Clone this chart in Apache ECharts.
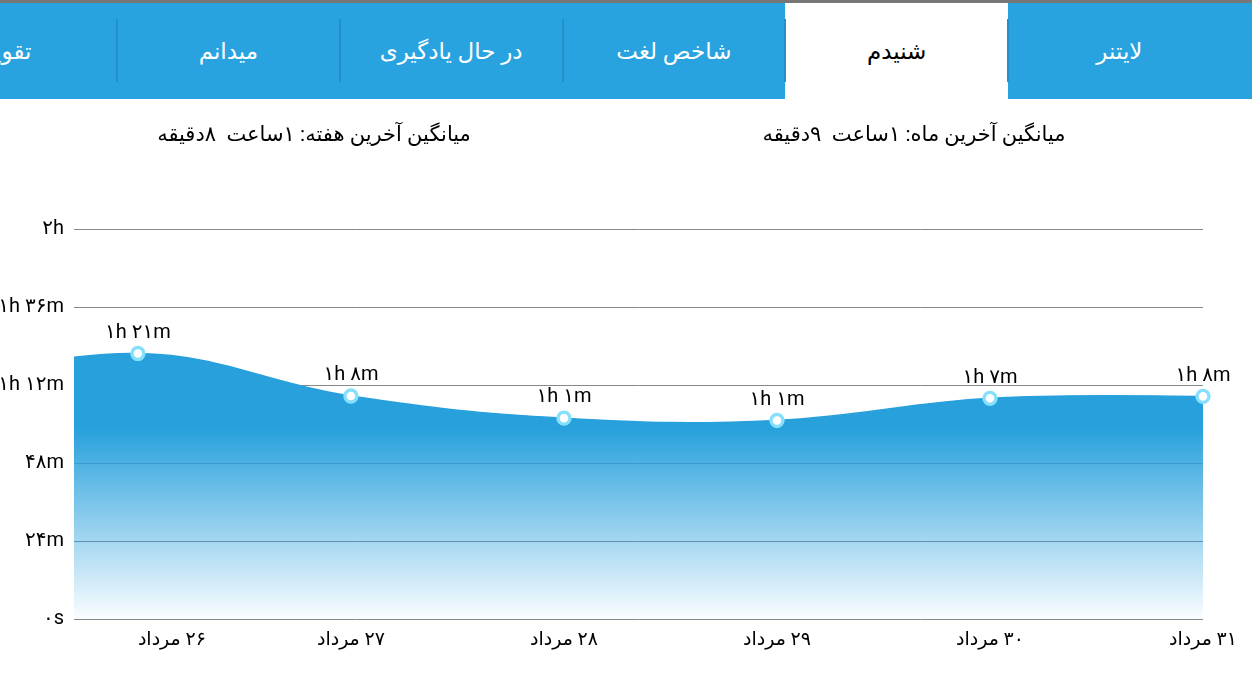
<!DOCTYPE html>
<html>
<head>
<meta charset="utf-8">
<script src="https://cdn.jsdelivr.net/npm/echarts@6/dist/echarts.min.js"></script>
<style>
  html, body { margin: 0; padding: 0; background: #fff; }
  body { width: 1252px; height: 674px; position: relative; overflow: hidden;
         font-family: Roboto, 'DejaVu Sans', sans-serif; }
  #chart { position: absolute; left: 0; top: 0; width: 1252px; height: 674px; }
  #strip { position: absolute; left: 0; top: 0; width: 1252px; height: 3px; background: #777; z-index: 2; }
  #tabs { position: absolute; left: 0; top: 3px; width: 1252px; height: 96px; background: #29a3df; z-index: 2; overflow: hidden; }
  .tab { position: absolute; top: 0; height: 96px; display: flex; align-items: center; justify-content: center;
         color: #fff; font-size: 23px; white-space: nowrap; direction: rtl; }
  .tab.sel { background: #fff; color: #000; }
  .div { position: absolute; top: 16px; width: 2px; height: 63px; background: #2390c8; }
</style>
</head>
<body>
<div id="chart"></div>
<div id="strip"></div>
<div id="tabs"></div>
<script>
// ---- data ----
const tabs = ['لایتنر', 'شنیدم', 'شاخص لغت', 'در حال یادگیری', 'میدانم', 'تقویم'];
const selectedTab = 1;
const weekTitle = 'میانگین آخرین هفته: ۱ساعت  ۸دقیقه';
const monthTitle = 'میانگین آخرین ماه: ۱ساعت  ۹دقیقه';
const dates = ['۲۵ مرداد', '۲۶ مرداد', '۲۷ مرداد', '۲۸ مرداد', '۲۹ مرداد', '۳۰ مرداد', '۳۱ مرداد'];
const minutes = [71, 81.7, 68.6, 61.8, 61.1, 67.9, 68.5];
const yTickLabels = ['۰s', '۲۴m', '۴۸m', '۱h ۱۲m', '۱h ۳۶m', '۲h'];

// ---- tab bar ----
const tabW = 222.75, tabRight = 1230.75;
const tabsEl = document.getElementById('tabs');
tabs.forEach((t, i) => {
  const left = tabRight - tabW * (i + 1);
  const d = document.createElement('div');
  d.className = 'tab' + (i === selectedTab ? ' sel' : '');
  d.style.left = left + 'px';
  d.style.width = tabW + 'px';
  d.textContent = t;
  tabsEl.appendChild(d);
});
tabs.forEach((t, i) => {
  const left = tabRight - tabW * (i + 1);
  const dv = document.createElement('div');
  dv.className = 'div';
  dv.style.left = (left - 1) + 'px';
  tabsEl.appendChild(dv);
});

// ---- helpers ----
const faDigits = '۰۱۲۳۴۵۶۷۸۹';
const toFa = n => String(n).replace(/[0-9]/g, d => faDigits[+d]);
const fmtDuration = v => {
  const total = Math.floor(v);
  const h = Math.floor(total / 60), m = total % 60;
  if (h > 0) return toFa(h) + 'h ' + toFa(m) + 'm';
  return toFa(m) + 'm';
};

const areaGradient = new echarts.graphic.LinearGradient(0, 0, 0, 1, [
  { offset: 0, color: 'rgba(39,160,220,1)' },
  { offset: 0.28, color: 'rgba(39,160,220,1)' },
  { offset: 1, color: 'rgba(39,160,220,0.02)' }
]);

// cubic bezier curve through the points (intensity-based tangents)
function renderArea(params, api) {
  if (params.dataIndex !== minutes.length - 1) return null;
  const pts = minutes.map((v, i) => api.coord([i, v]));
  const base = api.coord([0, 0])[1];
  const k = 0.2;
  let d = 'M' + pts[0][0] + ',' + pts[0][1];
  for (let j = 1; j < pts.length; j++) {
    const pp = pts[Math.max(j - 2, 0)], p = pts[j - 1], c = pts[j], n = pts[Math.min(j + 1, pts.length - 1)];
    const c1x = p[0] + (c[0] - pp[0]) * k, c1y = p[1] + (c[1] - pp[1]) * k;
    const c2x = c[0] - (n[0] - p[0]) * k, c2y = c[1] - (n[1] - p[1]) * k;
    d += ' C' + c1x + ',' + c1y + ' ' + c2x + ',' + c2y + ' ' + c[0] + ',' + c[1];
  }
  const last = pts[pts.length - 1];
  const area = d + ' L' + last[0] + ',' + base + ' L' + pts[0][0] + ',' + base + ' Z';
  return {
    type: 'group',
    children: [
      { type: 'path', shape: { pathData: area }, style: { fill: areaGradient, stroke: null } },
      { type: 'path', shape: { pathData: d }, style: { fill: null, stroke: '#27a0dc', lineWidth: 1.5 } }
    ]
  };
}

const font = "Roboto, 'DejaVu Sans', sans-serif";
const chart = echarts.init(document.getElementById('chart'));
chart.setOption({
  animation: false,
  grid: { left: 74, right: 49, top: 229, bottom: 55, containLabel: false, outerBoundsMode: 'none' },
  graphic: [
    { type: 'text', x: 314, y: 136, z: 10,
      style: { text: weekTitle, align: 'center', verticalAlign: 'middle', fill: '#000', font: '21px ' + font } },
    { type: 'text', x: 914, y: 136, z: 10,
      style: { text: monthTitle, align: 'center', verticalAlign: 'middle', fill: '#000', font: '21px ' + font } }
  ],
  xAxis: {
    type: 'value', min: 0.7, max: 6,
    axisLine: { show: false }, axisTick: { show: false }, splitLine: { show: false },
    axisLabel: {
      customValues: dates.map((d, i) => i).slice(1),
      formatter: v => '\u200F' + dates[Math.round(v)],
      color: '#000', fontSize: 19, fontFamily: font, margin: 12,
      alignMinLabel: 'left'
    }
  },
  yAxis: {
    type: 'value', min: 0, max: 120, interval: 24,
    axisLine: { show: false }, axisTick: { show: false },
    splitLine: { lineStyle: { color: '#888', width: 1 } },
    axisLabel: {
      formatter: v => yTickLabels[Math.round(v / 24)],
      color: '#000', fontSize: 20, fontFamily: font, margin: 10
    }
  },
  series: [
    {
      type: 'custom',
      clip: true,
      renderItem: renderArea,
      data: minutes.map((v, i) => [i, v]),
      encode: { x: 0, y: 1 },
      silent: true
    },
    {
      type: 'line',
      clip: true,
      data: minutes.map((v, i) => [i, v]),
      symbol: 'circle',
      symbolSize: 12,
      showAllSymbol: true,
      itemStyle: { color: '#fff', borderColor: '#86e0fb', borderWidth: 3.4 },
      lineStyle: { opacity: 0, width: 0 },
      label: {
        show: true, position: 'top', distance: 3,
        color: '#000', fontSize: 20, fontFamily: font,
        formatter: p => fmtDuration(p.value[1])
      },
      emphasis: { disabled: true }
    }
  ]
});
</script>
</body>
</html>
